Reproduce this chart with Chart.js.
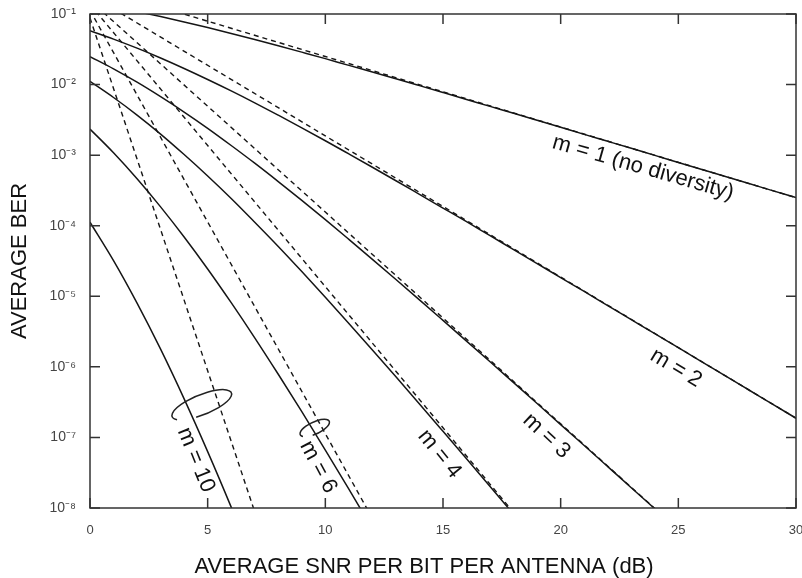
<!DOCTYPE html>
<html>
<head>
<meta charset="utf-8">
<script src="https://cdn.jsdelivr.net/npm/chart.js@4.4.1/dist/chart.umd.min.js"></script>
<style>
  html, body { margin: 0; padding: 0; background: #fff; }
</style>
</head>
<body>
<canvas id="berChart" width="802" height="578"></canvas>
<script>
// SNR per bit per antenna (dB), exact-curve sample points
const snrDb = [0, 1, 2, 3, 4, 5, 6, 7, 8, 9, 10, 11, 12, 13, 14, 15,
  16, 17, 18, 19, 20, 21, 22, 23, 24, 25, 26, 27, 28, 29, 30];

// average BER, solid curves
const berM1 = [0.146, 0.127, 0.108, 0.0919, 0.0771, 0.0642, 0.0530, 0.0435, 0.0355, 0.0288,
  0.0233, 0.0187, 0.0151, 0.0121, 0.00967, 0.00772, 0.00616, 0.00491, 0.00392, 0.00312,
  0.00248, 0.00197, 0.00157, 0.00125, 0.000992, 0.000789, 0.000627, 0.000498, 0.000396,
  0.000314, 0.000250];
const berM2 = [0.0581, 0.0441, 0.0328, 0.0238, 0.0169, 0.0118, 0.00813, 0.00551, 0.00368,
  0.00244, 0.00160, 0.00104, 6.74e-4, 4.34e-4, 2.78e-4, 1.78e-4, 1.14e-4, 7.22e-5, 4.59e-5,
  2.91e-5, 1.84e-5, 1.17e-5, 7.39e-6, 4.67e-6, 2.95e-6, 1.87e-6, 1.18e-6, 7.44e-7, 4.70e-7,
  2.97e-7, 1.87e-7];
const berM3 = [0.0249, 0.0167, 0.0108, 0.00673, 0.00408, 0.00240, 0.00137, 7.69e-4, 4.22e-4,
  2.28e-4, 1.22e-4, 6.41e-5, 3.34e-5, 1.73e-5, 8.90e-6, 4.55e-6, 2.32e-6, 1.18e-6, 5.97e-7,
  3.02e-7, 1.52e-7, 7.67e-8, 3.86e-8, 1.94e-8, 9.76e-9, 4.90e-9];
const berM4 = [0.0111, 0.00656, 0.00370, 0.00199, 0.00102, 5.07e-4, 2.43e-4, 1.12e-4, 5.08e-5,
  2.24e-5, 9.70e-6, 4.13e-6, 1.74e-6, 7.23e-7, 2.98e-7, 1.22e-7, 4.98e-8, 2.02e-8, 8.15e-9];
const berM6 = [0.00234, 0.00108, 4.63e-4, 1.85e-4, 6.92e-5, 2.44e-5, 8.12e-6, 2.58e-6,
  7.85e-7, 2.32e-7, 6.63e-8, 1.85e-8, 5.06e-9];
const berM10 = [1.12e-4, 3.20e-5, 8.0e-6, 1.78e-6, 3.52e-7, 6.3e-8, 1.03e-8, 1.55e-9];

// dashed curves (straight on this plot), sampled at a few SNRs
const dashSnrM1 = [0, 10, 20, 30];
const dashBerM1 = [0.25, 0.025, 0.0025, 0.00025];
const dashSnrM2 = [0, 10, 20, 30];
const dashBerM2 = [0.1875, 1.875e-3, 1.875e-5, 1.875e-7];
const dashSnrM3 = [0, 10, 20, 25];
const dashBerM3 = [0.156, 1.56e-4, 1.56e-7, 4.94e-9];
const dashSnrM4 = [0, 5, 10, 15, 20];
const dashBerM4 = [0.137, 1.37e-3, 1.37e-5, 1.37e-7, 1.37e-9];
const dashSnrM6 = [0, 5, 10, 12];
const dashBerM6 = [0.113, 1.13e-4, 1.13e-7, 7.12e-9];
const dashSnrM10 = [0, 5, 7];
const dashBerM10 = [0.0881, 8.81e-7, 8.81e-9];

// axis ticks
const snrTicks = [0, 5, 10, 15, 20, 25, 30];
const berTicks = [1e-8, 1e-7, 1e-6, 1e-5, 1e-4, 1e-3, 1e-2, 1e-1];
const berTickLabels = ["10⁻⁸", "10⁻⁷", "10⁻⁶", "10⁻⁵", "10⁻⁴", "10⁻³", "10⁻²", "10⁻¹"];

// curve captions, anchored in data coordinates
const curveLabels = [
  { text: "m = 1 (no diversity)", snr: 23.5, ber: 6.6e-4, angle: 16 },
  { text: "m = 2", snr: 24.9, ber: 9.6e-7, angle: 31 },
  { text: "m = 3", snr: 19.4, ber: 1.05e-7, angle: 43 },
  { text: "m = 4", snr: 14.85, ber: 5.8e-8, angle: 51 },
  { text: "m = 6", snr: 9.7, ber: 3.8e-8, angle: 62 },
  { text: "m = 10", snr: 4.5, ber: 4.8e-8, angle: 68 }
];
const groupRings = [
  { snr: 4.75, ber: 2.9e-7, rx: 32, ry: 10, angle: -22 },
  { snr: 9.55, ber: 1.36e-7, rx: 16, ry: 6, angle: -25 }
];

const FONT = "'Liberation Sans', Arial, Helvetica, sans-serif";
Chart.defaults.font.family = FONT;

function pts(xs, ys) {
  return ys.map((v, i) => ({ x: xs[i], y: v }));
}
function solid(values) {
  return {
    data: pts(snrDb, values),
    borderColor: "#151515",
    borderWidth: 1.5,
    pointRadius: 0,
    cubicInterpolationMode: "monotone",
    fill: false
  };
}
function dashed(xs, ys) {
  return {
    data: pts(xs, ys),
    borderColor: "#151515",
    borderWidth: 1.4,
    borderDash: [5, 4],
    pointRadius: 0,
    fill: false
  };
}

const decorations = {
  id: "decorations",
  afterDraw(chart) {
    const { ctx, chartArea: a, scales: { x, y } } = chart;
    ctx.save();
    ctx.strokeStyle = "#333";
    ctx.lineWidth = 1.5;
    ctx.strokeRect(a.left, a.top, a.right - a.left, a.bottom - a.top);
    ctx.beginPath();
    snrTicks.forEach(v => {
      const px = x.getPixelForValue(v);
      ctx.moveTo(px, a.bottom); ctx.lineTo(px, a.bottom - 10);
      ctx.moveTo(px, a.top); ctx.lineTo(px, a.top + 10);
    });
    berTicks.forEach(v => {
      const py = y.getPixelForValue(v);
      ctx.moveTo(a.left, py); ctx.lineTo(a.left + 10, py);
      ctx.moveTo(a.right, py); ctx.lineTo(a.right - 10, py);
    });
    ctx.stroke();

    // rings grouping solid/dashed pairs
    ctx.strokeStyle = "#222";
    ctx.lineWidth = 1.5;
    groupRings.forEach(r => {
      const cx = x.getPixelForValue(r.snr), cy = y.getPixelForValue(r.ber);
      ctx.beginPath();
      ctx.ellipse(cx, cy, r.rx, r.ry, r.angle * Math.PI / 180, 0.85 * Math.PI, 2.6 * Math.PI);
      ctx.stroke();
    });

    // curve captions
    ctx.fillStyle = "#111";
    ctx.font = "22px " + FONT;
    ctx.textAlign = "center";
    ctx.textBaseline = "middle";
    curveLabels.forEach(l => {
      ctx.save();
      ctx.translate(x.getPixelForValue(l.snr), y.getPixelForValue(l.ber));
      ctx.rotate(l.angle * Math.PI / 180);
      ctx.fillText(l.text, 0, 0);
      ctx.restore();
    });

    // x axis title (sits left of centre in the original)
    ctx.font = "22px " + FONT;
    ctx.textBaseline = "alphabetic";
    ctx.fillText("AVERAGE SNR PER BIT PER ANTENNA (dB)", 424, 573);
    ctx.restore();
  }
};

new Chart(document.getElementById("berChart"), {
  type: "line",
  data: {
    datasets: [
      solid(berM1), solid(berM2), solid(berM3), solid(berM4), solid(berM6), solid(berM10),
      dashed(dashSnrM1, dashBerM1), dashed(dashSnrM2, dashBerM2), dashed(dashSnrM3, dashBerM3),
      dashed(dashSnrM4, dashBerM4), dashed(dashSnrM6, dashBerM6), dashed(dashSnrM10, dashBerM10)
    ]
  },
  options: {
    responsive: false,
    animation: false,
    layout: { padding: { top: 14, right: 6, left: 0, bottom: 0 } },
    plugins: { legend: { display: false }, tooltip: { enabled: false } },
    scales: {
      x: {
        type: "linear",
        min: 0,
        max: 30,
        grid: { display: false },
        border: { display: false },
        afterBuildTicks: s => { s.ticks = snrTicks.map(v => ({ value: v })); },
        afterFit: s => { s.height = 70; s.paddingLeft = 0; s.paddingRight = 0; },
        ticks: { color: "#444", font: { size: 13 }, padding: 7, maxRotation: 0 }
      },
      y: {
        type: "logarithmic",
        min: 1e-8,
        max: 1e-1,
        grid: { display: false },
        border: { display: false },
        afterBuildTicks: s => { s.ticks = berTicks.map(v => ({ value: v })); },
        afterFit: s => { s.width = 90; s.paddingTop = 0; s.paddingBottom = 0; },
        ticks: {
          color: "#444",
          font: { size: 14 },
          padding: 6,
          callback: (value, index) => berTickLabels[index]
        },
        title: {
          display: true,
          text: "AVERAGE BER",
          color: "#111",
          font: { size: 22 },
          padding: { top: 7, bottom: 0 }
        }
      }
    }
  },
  plugins: [decorations]
});
</script>
</body>
</html>
